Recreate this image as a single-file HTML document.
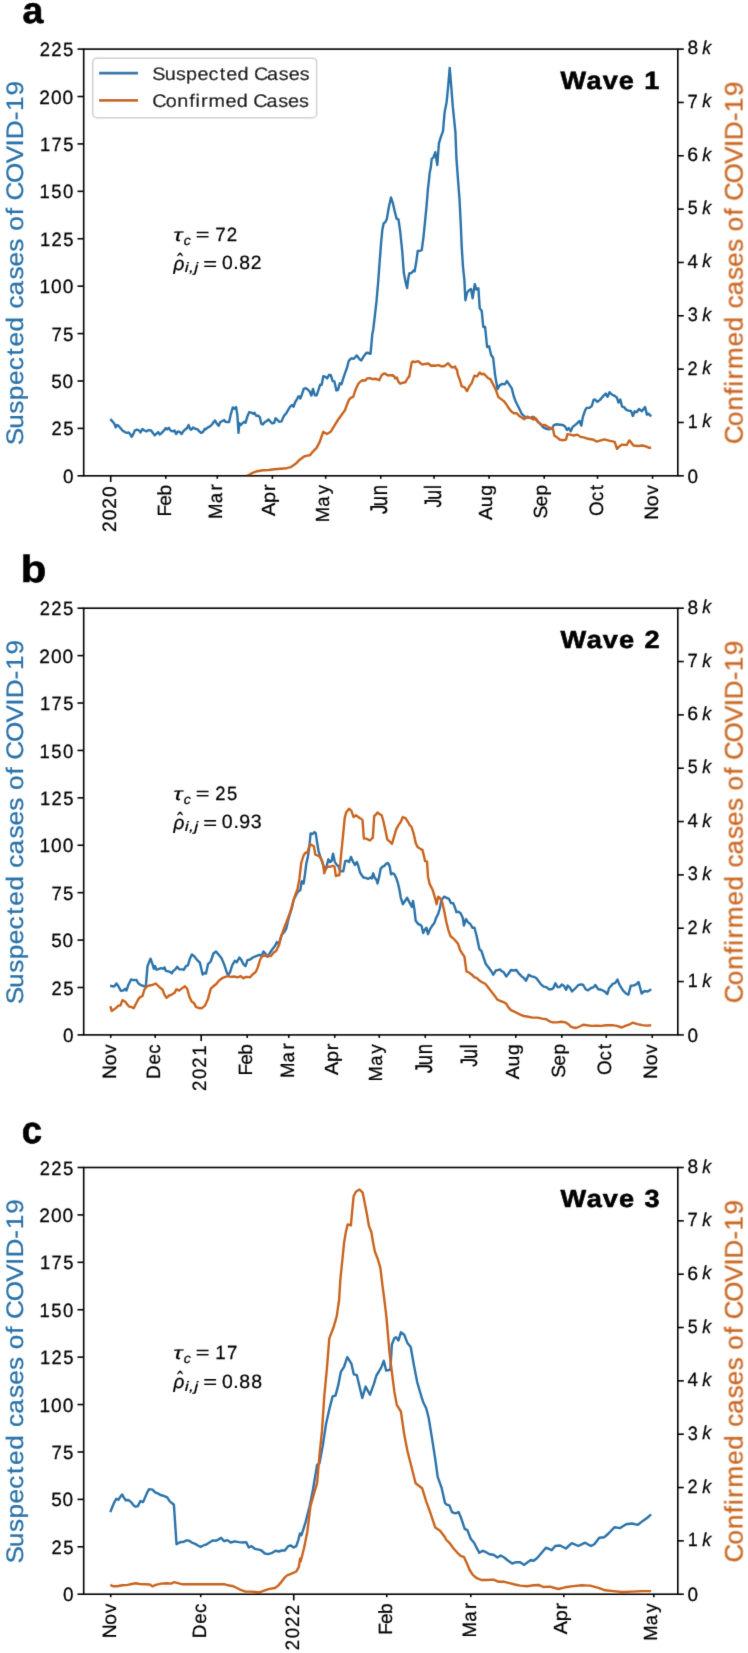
<!DOCTYPE html>
<html><head><meta charset="utf-8"><style>
html,body{margin:0;padding:0;background:#fff;}
svg{display:block;font-family:"Liberation Sans",sans-serif;}

</style></head><body>
<svg width="748" height="1653" viewBox="0 0 748 1653" text-rendering="geometricPrecision">
<defs><filter id="soft" x="0" y="0" width="748" height="1653" filterUnits="userSpaceOnUse"><feConvolveMatrix order="3" kernelMatrix="0.01134 0.08382 0.01134 0.08382 0.61935 0.08382 0.01134 0.08382 0.01134" edgeMode="duplicate"/></filter></defs>
<rect width="748" height="1653" fill="#fff"/>
<g filter="url(#soft)">
<clipPath id="clip0"><rect x="83.70" y="49.10" width="594.10" height="426.70"/></clipPath>
<polyline clip-path="url(#clip0)" fill="none" stroke="#2a72a8" stroke-width="2.4" stroke-linejoin="round" stroke-linecap="butt" points="110.3,419.1 112.4,421.4 114.4,423.8 115.7,427.4 117.0,425.1 118.4,425.7 120.4,428.1 122.4,430.5 124.8,432.1 127.1,432.8 128.8,432.4 130.4,434.5 131.7,436.8 133.3,434.1 134.7,430.7 137.1,429.7 139.1,430.5 140.4,432.4 142.4,429.1 144.4,430.5 146.4,431.4 148.4,430.1 151.1,430.5 153.1,433.2 154.7,435.4 156.5,433.7 158.2,432.1 159.8,434.5 161.8,432.8 163.8,430.7 165.8,428.1 167.2,429.4 168.9,427.8 170.5,430.5 172.5,431.4 174.5,430.5 176.1,434.1 177.9,431.4 179.9,432.1 181.5,434.1 183.2,431.4 185.2,429.4 186.8,428.3 188.6,425.1 189.9,428.7 191.2,429.7 193.2,427.4 195.2,428.7 197.2,429.1 199.3,431.4 201.0,432.8 202.6,432.4 205.0,428.7 205.3,429.6 208.0,427.4 210.0,426.4 212.0,424.5 213.6,422.1 215.0,420.5 216.7,423.4 218.7,425.8 220.3,422.1 222.5,421.0 224.1,420.1 225.4,421.8 227.4,422.1 229.1,422.1 230.7,414.7 232.8,407.4 234.5,408.7 236.1,407.1 237.4,415.4 238.5,432.8 239.4,423.2 240.8,425.0 242.5,423.2 244.1,421.8 245.5,422.8 247.5,416.1 249.2,412.1 251.5,412.7 253.2,413.8 254.5,412.7 256.1,415.7 258.2,415.7 259.9,417.4 261.2,423.4 262.8,424.5 264.8,422.1 266.8,421.0 268.4,419.4 270.2,421.4 272.2,423.4 274.2,422.8 275.5,418.3 277.3,419.7 279.1,421.8 281.6,421.4 283.2,417.4 284.5,415.1 286.2,413.4 288.2,409.8 290.2,406.7 292.2,405.0 293.6,406.7 295.2,402.0 296.9,399.4 298.3,396.4 300.0,396.7 300.3,398.5 302.0,394.2 303.7,388.9 305.7,388.2 307.7,389.5 309.7,391.5 311.3,395.6 313.0,388.9 314.8,395.3 316.7,395.3 318.4,390.2 320.1,384.8 321.7,384.8 323.3,376.2 325.1,376.6 327.1,378.4 329.1,374.8 330.8,375.2 332.7,381.1 334.4,381.5 336.4,390.5 338.0,389.9 339.8,383.2 341.5,384.2 343.1,378.8 345.1,372.8 347.1,367.5 348.7,361.0 351.1,358.4 353.8,358.8 356.8,355.4 359.2,358.8 361.2,360.5 363.9,356.1 366.5,352.7 368.3,353.0 370.5,353.8 371.5,343.4 372.3,334.0 373.2,330.0 376.5,301.4 378.1,282.8 379.6,262.3 381.2,241.7 382.4,229.4 383.7,223.2 385.3,222.2 386.8,219.1 388.9,206.7 391.0,197.5 393.0,203.7 395.1,212.9 396.6,218.6 398.5,219.6 400.2,231.4 402.3,252.0 403.8,272.6 405.7,282.8 407.1,288.0 408.4,277.7 409.5,273.1 411.5,273.1 413.6,270.5 414.6,271.5 416.2,262.3 417.7,251.0 420.3,250.8 421.8,249.9 423.4,237.6 424.9,223.2 426.5,206.7 428.0,188.2 429.0,180.0 429.6,173.3 430.7,168.1 431.7,158.9 433.2,157.8 435.3,152.2 437.3,165.0 438.9,143.4 440.4,138.3 443.0,131.1 444.6,112.6 446.6,102.3 448.2,85.9 449.7,67.9 451.2,85.9 452.8,106.4 455.4,132.1 456.4,157.8 457.9,178.4 459.5,199.0 460.8,225.0 461.7,246.7 463.0,266.8 464.4,280.2 465.4,300.2 467.0,292.9 469.0,290.2 471.0,288.9 472.6,298.2 474.8,284.2 476.4,289.5 478.4,288.2 479.7,308.2 481.7,310.9 483.3,327.0 485.1,327.0 487.1,347.0 489.1,346.3 491.1,355.0 493.1,357.7 495.1,375.1 497.5,389.1 499.8,385.1 502.5,383.8 504.7,384.4 506.9,381.1 509.1,384.4 511.8,388.4 513.8,396.5 515.8,401.8 519.2,408.5 521.8,413.9 524.5,416.5 527.9,417.9 531.2,417.6 532.8,416.8 533.9,417.6 535.1,418.2 537.5,421.5 540.3,423.8 543.1,427.1 545.4,428.5 548.7,429.4 552.0,428.5 553.9,425.2 556.2,424.3 559.9,424.7 562.8,425.0 565.1,426.6 567.0,429.9 568.8,428.0 570.7,431.3 572.6,427.1 575.9,424.3 579.6,421.0 581.3,425.7 582.9,416.8 585.2,410.2 586.6,407.9 589.4,407.9 591.8,406.0 593.6,399.9 595.0,399.5 597.4,401.8 600.0,399.9 603.9,395.4 605.8,393.6 607.6,396.8 609.5,392.2 611.8,394.5 614.7,395.9 617.0,397.8 618.4,402.5 620.3,399.6 622.1,406.7 624.0,407.1 626.4,409.9 629.2,410.9 631.0,410.9 632.9,416.0 634.8,411.3 636.6,412.3 639.0,409.0 641.8,411.3 645.1,407.1 646.9,414.6 648.8,413.7 651.1,416.5"/>
<polyline clip-path="url(#clip0)" fill="none" stroke="#c8641e" stroke-width="2.4" stroke-linejoin="round" stroke-linecap="butt" points="110.5,476.8 245.0,476.8 249.0,474.9 252.6,472.9 257.1,471.2 262.9,470.3 268.8,470.0 274.7,469.3 280.6,468.8 286.5,468.2 290.9,467.1 295.3,464.1 299.7,459.7 304.1,456.5 307.1,455.6 310.0,455.3 312.9,451.6 316.6,447.9 319.6,442.1 323.2,431.8 326.9,434.0 330.6,431.8 334.3,425.9 337.9,420.0 345.1,410.0 347.1,404.2 349.1,399.6 351.1,397.6 353.2,396.9 354.9,391.5 356.5,387.5 358.5,383.5 360.5,381.5 362.5,380.2 365.2,380.6 367.2,378.4 369.9,378.2 372.5,379.2 375.2,378.8 377.2,379.2 379.2,380.2 381.6,375.2 383.9,373.5 385.9,373.9 386.6,374.8 388.6,375.5 388.7,375.3 390.9,375.3 391.3,375.5 392.8,375.1 393.3,375.8 394.4,376.7 395.0,378.4 396.8,377.5 398.4,381.7 400.2,383.6 402.6,382.8 405.3,382.3 407.5,378.5 409.3,376.4 410.4,369.4 411.7,362.5 412.8,361.4 414.9,362.2 418.2,361.1 420.3,363.0 422.4,364.6 425.0,363.8 425.6,364.1 428.3,363.5 431.0,365.7 433.1,365.5 435.3,365.7 438.5,365.1 441.1,366.2 444.4,366.2 446.5,364.4 448.1,363.3 449.7,365.1 451.8,367.3 454.5,367.3 455.0,366.4 456.1,368.9 457.0,369.7 457.7,374.2 459.0,377.8 459.9,380.0 461.7,386.4 464.4,387.1 467.0,391.1 469.7,385.8 471.7,383.1 474.4,375.7 477.1,376.4 479.7,372.4 481.7,374.4 483.7,373.7 486.4,376.4 488.4,378.4 490.4,379.1 493.1,384.4 495.8,389.8 498.4,397.1 501.1,399.1 503.8,401.1 506.5,404.5 508.5,407.8 511.1,411.2 513.8,413.2 516.5,413.2 519.2,415.9 521.8,417.6 524.5,419.2 527.2,416.5 530.5,417.9 533.7,419.6 533.9,417.2 536.1,418.7 538.4,422.4 541.2,424.7 545.4,425.2 548.7,427.5 552.9,428.5 554.3,435.5 557.1,437.4 559.9,439.7 563.7,440.2 566.0,439.7 567.4,434.1 570.2,434.6 573.5,435.5 577.3,434.6 580.5,436.9 583.8,437.4 588.0,438.8 593.6,439.7 596.4,441.6 600.0,440.6 604.4,439.4 609.0,440.6 614.7,441.9 617.0,448.8 619.3,446.4 622.1,444.6 626.8,445.0 629.2,440.4 631.0,442.2 633.4,445.5 638.0,446.0 642.7,445.5 646.5,446.6 649.3,447.8 651.1,447.8"/>
<rect x="83.70" y="49.10" width="594.10" height="426.70" fill="none" stroke="#000" stroke-width="1.6"/>
<line x1="77.50" y1="475.80" x2="83.70" y2="475.80" stroke="#000" stroke-width="1.60"/>
<text transform="matrix(18.93613 0.00000 0.00000 19.34700 62.876 482.901)" font-size="1" fill="#000" stroke="#000" stroke-width="0.0131" >0</text>
<line x1="77.50" y1="428.39" x2="83.70" y2="428.39" stroke="#000" stroke-width="1.60"/>
<text x="0.0213 0.6571" transform="matrix(18.41074 0.00000 0.00000 19.34700 51.096 435.489)" font-size="1" fill="#000" stroke="#000" stroke-width="0.0132" >25</text>
<line x1="77.50" y1="380.98" x2="83.70" y2="380.98" stroke="#000" stroke-width="1.60"/>
<text x="0.0192 0.6231" transform="matrix(18.99577 0.00000 0.00000 19.34700 51.009 388.078)" font-size="1" fill="#000" stroke="#000" stroke-width="0.0130" >50</text>
<line x1="77.50" y1="333.57" x2="83.70" y2="333.57" stroke="#000" stroke-width="1.60"/>
<text x="0.0274 0.6420" transform="matrix(18.64337 0.00000 0.00000 19.29462 51.104 340.553)" font-size="1" fill="#000" stroke="#000" stroke-width="0.0132" >75</text>
<line x1="77.50" y1="286.16" x2="83.70" y2="286.16" stroke="#000" stroke-width="1.60"/>
<text x="0.0184 0.6231 1.2247" transform="matrix(19.18302 0.00000 0.00000 19.34700 39.255 293.256)" font-size="1" fill="#000" stroke="#000" stroke-width="0.0130" >100</text>
<line x1="77.50" y1="238.74" x2="83.70" y2="238.74" stroke="#000" stroke-width="1.60"/>
<text x="0.0344 0.6571 1.2996" transform="matrix(18.33145 0.00000 0.00000 19.34700 39.410 245.845)" font-size="1" fill="#000" stroke="#000" stroke-width="0.0133" >125</text>
<line x1="77.50" y1="191.33" x2="83.70" y2="191.33" stroke="#000" stroke-width="1.60"/>
<text x="0.0344 0.6670 1.3021" transform="matrix(18.49326 0.00000 0.00000 19.34700 39.024 198.434)" font-size="1" fill="#000" stroke="#000" stroke-width="0.0132" >150</text>
<line x1="77.50" y1="143.92" x2="83.70" y2="143.92" stroke="#000" stroke-width="1.60"/>
<text x="0.0344 0.6683 1.2996" transform="matrix(18.33145 0.00000 0.00000 19.29462 39.410 150.908)" font-size="1" fill="#000" stroke="#000" stroke-width="0.0133" >175</text>
<line x1="77.50" y1="96.51" x2="83.70" y2="96.51" stroke="#000" stroke-width="1.60"/>
<text x="0.0097 0.6231 1.2247" transform="matrix(19.20882 0.00000 0.00000 19.34700 39.210 103.612)" font-size="1" fill="#000" stroke="#000" stroke-width="0.0130" >200</text>
<line x1="77.50" y1="49.10" x2="83.70" y2="49.10" stroke="#000" stroke-width="1.60"/>
<text x="0.0213 0.6473 1.2830" transform="matrix(18.50347 0.00000 0.00000 19.34700 39.405 56.201)" font-size="1" fill="#000" stroke="#000" stroke-width="0.0132" >225</text>
<line x1="677.80" y1="475.80" x2="683.80" y2="475.80" stroke="#000" stroke-width="1.60"/>
<text transform="matrix(18.93613 0.00000 0.00000 19.34700 687.568 482.651)" font-size="1" fill="#000" stroke="#000" stroke-width="0.0131" >0</text>
<line x1="677.80" y1="422.46" x2="683.80" y2="422.46" stroke="#000" stroke-width="1.60"/>
<text transform="matrix(17.92832 0.00000 0.00000 19.17382 687.704 427.754)" font-size="1" fill="#000" stroke="#000" stroke-width="0.0135" >1</text>
<text transform="matrix(17.89474 0.00000 0.00000 18.94345 702.212 427.478)" font-size="1" fill="#000" stroke="#000" stroke-width="0.0136" font-style="italic">k</text>
<line x1="677.80" y1="369.12" x2="683.80" y2="369.12" stroke="#000" stroke-width="1.60"/>
<text transform="matrix(18.15385 0.00000 0.00000 19.22867 687.451 374.531)" font-size="1" fill="#000" stroke="#000" stroke-width="0.0134" >2</text>
<text transform="matrix(17.89474 0.00000 0.00000 18.94345 702.212 374.255)" font-size="1" fill="#000" stroke="#000" stroke-width="0.0136" font-style="italic">k</text>
<line x1="677.80" y1="315.79" x2="683.80" y2="315.79" stroke="#000" stroke-width="1.60"/>
<text transform="matrix(18.06737 0.00000 0.00000 19.34700 687.727 321.138)" font-size="1" fill="#000" stroke="#000" stroke-width="0.0134" >3</text>
<text transform="matrix(17.89474 0.00000 0.00000 18.94345 702.212 321.055)" font-size="1" fill="#000" stroke="#000" stroke-width="0.0136" font-style="italic">k</text>
<line x1="677.80" y1="262.45" x2="683.80" y2="262.45" stroke="#000" stroke-width="1.60"/>
<text transform="matrix(18.81584 0.00000 0.00000 19.17382 687.522 267.741)" font-size="1" fill="#000" stroke="#000" stroke-width="0.0132" >4</text>
<text transform="matrix(17.89474 0.00000 0.00000 18.94345 702.212 267.465)" font-size="1" fill="#000" stroke="#000" stroke-width="0.0136" font-style="italic">k</text>
<line x1="677.80" y1="209.11" x2="683.80" y2="209.11" stroke="#000" stroke-width="1.60"/>
<text transform="matrix(17.77684 0.00000 0.00000 19.29462 687.740 214.349)" font-size="1" fill="#000" stroke="#000" stroke-width="0.0135" >5</text>
<text transform="matrix(17.89474 0.00000 0.00000 18.94345 702.212 214.265)" font-size="1" fill="#000" stroke="#000" stroke-width="0.0136" font-style="italic">k</text>
<line x1="677.80" y1="155.78" x2="683.80" y2="155.78" stroke="#000" stroke-width="1.60"/>
<text transform="matrix(19.45081 0.00000 0.00000 19.34700 687.340 161.126)" font-size="1" fill="#000" stroke="#000" stroke-width="0.0129" >6</text>
<text transform="matrix(17.89474 0.00000 0.00000 18.94345 702.212 161.043)" font-size="1" fill="#000" stroke="#000" stroke-width="0.0136" font-style="italic">k</text>
<line x1="677.80" y1="102.44" x2="683.80" y2="102.44" stroke="#000" stroke-width="1.60"/>
<text transform="matrix(18.45746 0.00000 0.00000 19.17382 687.574 107.728)" font-size="1" fill="#000" stroke="#000" stroke-width="0.0133" >7</text>
<text transform="matrix(17.89474 0.00000 0.00000 18.94345 702.212 107.453)" font-size="1" fill="#000" stroke="#000" stroke-width="0.0136" font-style="italic">k</text>
<line x1="677.80" y1="49.10" x2="683.80" y2="49.10" stroke="#000" stroke-width="1.60"/>
<text transform="matrix(19.04255 0.00000 0.00000 19.34700 687.458 54.451)" font-size="1" fill="#000" stroke="#000" stroke-width="0.0130" >8</text>
<text transform="matrix(17.89474 0.00000 0.00000 18.94345 702.212 54.368)" font-size="1" fill="#000" stroke="#000" stroke-width="0.0136" font-style="italic">k</text>
<line x1="110.70" y1="475.80" x2="110.70" y2="482.00" stroke="#000" stroke-width="1.60"/>
<text x="0.0097 0.6231 1.2129 1.8263" transform="matrix(0.00000 -19.28496 19.34700 0.00000 115.755 531.920)" font-size="1" fill="#000" stroke="#000" stroke-width="0.0129" >2020</text>
<line x1="165.78" y1="475.80" x2="165.78" y2="478.80" stroke="#000" stroke-width="1.60"/>
<text x="-0.0415 0.5411 1.0721" transform="matrix(0.00000 -19.08879 19.06122 0.00000 170.994 515.842)" font-size="1" fill="#000" stroke="#000" stroke-width="0.0131" >Feb</text>
<line x1="217.30" y1="475.80" x2="217.30" y2="478.80" stroke="#000" stroke-width="1.60"/>
<text x="0.0150 0.8553 1.5331" transform="matrix(0.00000 -18.61818 19.29462 0.00000 222.237 519.013)" font-size="1" fill="#000" stroke="#000" stroke-width="0.0132" >Mar</text>
<line x1="272.38" y1="475.80" x2="272.38" y2="478.80" stroke="#000" stroke-width="1.60"/>
<text x="-0.0204 0.6459 1.2483" transform="matrix(0.00000 -19.85535 18.99441 0.00000 275.335 515.614)" font-size="1" fill="#000" stroke="#000" stroke-width="0.0129" >Apr</text>
<line x1="325.67" y1="475.80" x2="325.67" y2="478.80" stroke="#000" stroke-width="1.60"/>
<text x="0.0150 0.8553 1.5219" transform="matrix(0.00000 -18.44345 18.99441 0.00000 328.634 522.320)" font-size="1" fill="#000" stroke="#000" stroke-width="0.0134" >May</text>
<line x1="380.75" y1="475.80" x2="380.75" y2="478.80" stroke="#000" stroke-width="1.60"/>
<text x="-0.1527 0.2879 0.8813" transform="matrix(0.00000 -18.49156 24.17491 0.00000 387.339 511.446)" font-size="1" fill="#000" stroke="#000" stroke-width="0.0117" >Jun</text>
<line x1="434.05" y1="475.80" x2="434.05" y2="478.80" stroke="#000" stroke-width="1.60"/>
<text x="-0.1495 0.3143 0.9278" transform="matrix(0.00000 -17.40426 23.69252 0.00000 440.919 505.101)" font-size="1" fill="#000" stroke="#000" stroke-width="0.0122" >Jul</text>
<line x1="489.12" y1="475.80" x2="489.12" y2="478.80" stroke="#000" stroke-width="1.60"/>
<text x="-0.0167 0.6495 1.2355" transform="matrix(0.00000 -19.44782 18.99441 0.00000 492.082 519.789)" font-size="1" fill="#000" stroke="#000" stroke-width="0.0130" >Aug</text>
<line x1="544.20" y1="475.80" x2="544.20" y2="478.80" stroke="#000" stroke-width="1.60"/>
<text x="-0.0338 0.5963 1.1779" transform="matrix(0.00000 -19.16262 19.03867 0.00000 547.263 517.973)" font-size="1" fill="#000" stroke="#000" stroke-width="0.0131" >Sep</text>
<line x1="597.50" y1="475.80" x2="597.50" y2="478.80" stroke="#000" stroke-width="1.60"/>
<text x="0.0015 0.7947 1.3830" transform="matrix(0.00000 -18.77108 19.34700 0.00000 602.548 515.996)" font-size="1" fill="#000" stroke="#000" stroke-width="0.0131" >Oct</text>
<line x1="652.57" y1="475.80" x2="652.57" y2="478.80" stroke="#000" stroke-width="1.60"/>
<text x="-0.0098 0.7126 1.3073" transform="matrix(0.00000 -19.27066 19.29462 0.00000 657.508 519.793)" font-size="1" fill="#000" stroke="#000" stroke-width="0.0130" >Nov</text>
<text x="-0.0293 0.6144 1.1946 1.7077 2.2924 2.8557 3.4183 3.7566 4.3369 4.9192 5.2156 5.7102 6.3130 6.8140 7.3814 7.8696 8.1777 8.7809 9.0749 9.3366 10.0107 10.7576 11.3971 11.6754 12.4027 12.7546 13.3524" transform="matrix(0.00000 -26.18318 23.86059 0.00000 22.524 444.787)" font-size="1" fill="#2a72a8" stroke="#2a72a8" stroke-width="0.0100" >Suspected cases of COVID-19</text>
<text x="-0.0371 0.6658 1.2540 1.8648 2.1793 2.4627 2.8499 3.7190 4.2992 4.8815 5.1780 5.6725 6.2754 6.7764 7.3438 7.8320 8.1401 8.7432 9.0372 9.2990 9.9730 10.7199 11.3595 11.6378 12.3651 12.7169 13.3148" transform="matrix(0.00000 -26.07531 25.51020 0.00000 742.620 443.310)" font-size="1" fill="#c8641e" stroke="#c8641e" stroke-width="0.0097" >Confirmed cases of COVID-19</text>
<text transform="matrix(37.55869 0.00000 0.00000 37.07763 22.473 23.429)" font-size="1" fill="#000" stroke="#000" stroke-width="0.0161" font-weight="bold">a</text>
<text x="0.0246 0.9858 1.5864 2.1806 2.7703 3.1228" transform="matrix(27.07499 0.00000 0.00000 25.08961 559.968 89.149)" font-size="1" fill="#000" stroke="#000" stroke-width="0.0230" font-weight="bold">Wave 1</text>
<text transform="matrix(23.61290 0.00000 0.00000 18.13953 173.440 240.694)" font-size="1" fill="#000" stroke="#000" stroke-width="0.0120" font-style="italic">τ</text>
<text transform="matrix(14.17582 0.00000 0.00000 13.60731 183.864 244.639)" font-size="1" fill="#000" stroke="#000" stroke-width="0.0180" font-style="italic">c</text>
<text transform="matrix(23.60825 0.00000 0.00000 16.58915 195.645 240.054)" font-size="1" fill="#000" stroke="#000" stroke-width="0.0124" >=</text>
<text x="0.0274 0.6323" transform="matrix(18.72931 0.00000 0.00000 19.22867 214.947 240.637)" font-size="1" fill="#000" stroke="#000" stroke-width="0.0132" >72</text>
<text transform="matrix(18.94273 0.00000 0.00000 18.99329 173.599 269.634)" font-size="1" fill="#000" stroke="#000" stroke-width="0.0132" font-style="italic">ρ</text>
<text transform="matrix(17.20930 0.00000 0.00000 22.10526 177.125 268.762)" font-size="1" fill="#000" stroke="#000" stroke-width="0.0127" >ˆ</text>
<text x="0.0097 0.2528 0.5555" transform="matrix(17.65198 0.00000 0.00000 13.67292 184.645 272.338)" font-size="1" fill="#000" stroke="#000" stroke-width="0.0160" font-style="italic">i,j</text>
<text transform="matrix(23.81443 0.00000 0.00000 18.13953 203.234 269.613)" font-size="1" fill="#000" stroke="#000" stroke-width="0.0119" >=</text>
<text x="0.0197 0.6073 0.9178 1.5030" transform="matrix(19.32667 0.00000 0.00000 19.34700 221.767 269.220)" font-size="1" fill="#000" stroke="#000" stroke-width="0.0129" >0.82</text>
<rect x="92.8" y="58.2" width="223.8" height="59.5" rx="4" ry="4" fill="#fff" fill-opacity="0.8" stroke="#d0d0d0" stroke-width="1.5"/>
<line x1="99.00" y1="73.20" x2="138.10" y2="73.20" stroke="#2a72a8" stroke-width="2.80"/>
<line x1="99.00" y1="100.30" x2="138.10" y2="100.30" stroke="#c8641e" stroke-width="2.80"/>
<text x="-0.0329 0.6036 1.1772 1.6836 2.2614 2.8181 3.3754 3.7080 4.2814 4.8598 5.1140 5.7756 6.3718 6.8664 7.4274" transform="matrix(19.78990 0.00000 0.00000 18.06971 152.886 79.726)" font-size="1" fill="#000" stroke="#000" stroke-width="0.0132" >Suspected Cases</text>
<text x="-0.0421 0.6515 1.2309 1.8345 2.1447 2.4226 2.8006 3.6586 4.2303 4.8078 5.0601 5.7199 6.3144 6.8074 7.3667" transform="matrix(19.85599 0.00000 0.00000 18.16327 152.968 107.093)" font-size="1" fill="#000" stroke="#000" stroke-width="0.0132" >Confirmed Cases</text>
<clipPath id="clip1"><rect x="83.70" y="608.20" width="594.10" height="426.70"/></clipPath>
<polyline clip-path="url(#clip1)" fill="none" stroke="#2a72a8" stroke-width="2.4" stroke-linejoin="round" stroke-linecap="butt" points="110.1,985.8 112.4,986.2 114.1,986.6 116.4,983.5 118.4,986.2 120.8,990.8 123.0,990.6 125.1,988.8 126.4,990.6 128.4,984.8 131.1,979.5 133.7,980.1 136.4,979.9 138.4,983.5 140.4,984.8 143.1,985.8 145.8,986.8 147.5,966.1 150.5,958.7 152.5,964.1 153.8,968.8 155.1,966.1 156.5,969.7 158.5,969.2 161.1,968.1 163.2,968.8 164.5,967.4 165.8,970.8 168.5,971.4 170.5,972.1 171.8,973.4 173.2,971.0 175.2,969.4 177.2,966.8 179.2,969.2 181.9,969.4 183.9,969.7 185.9,966.1 187.9,965.4 189.9,958.7 191.9,954.4 194.6,956.7 197.2,960.1 199.9,962.7 201.3,968.8 202.6,974.5 205.0,972.8 206.0,973.5 208.0,964.2 210.7,961.5 213.4,953.5 216.0,951.5 218.7,954.8 221.4,958.1 224.1,964.2 226.7,972.2 228.1,975.5 230.1,972.2 232.1,965.5 234.8,960.8 236.8,962.2 239.4,957.5 241.4,960.1 243.4,964.2 245.5,966.2 247.5,960.1 250.1,959.5 252.8,957.5 256.1,956.1 259.5,954.8 261.5,956.1 263.5,951.5 265.5,953.5 267.5,956.8 269.5,953.5 272.2,949.5 274.9,946.1 276.9,942.1 278.9,944.1 281.6,934.8 284.2,932.1 286.2,928.7 288.2,920.0 290.2,913.4 292.2,906.7 293.6,900.0 296.6,893.9 298.4,891.1 300.3,890.1 301.7,881.3 303.6,883.6 305.0,874.2 306.4,863.0 307.8,857.4 309.2,848.0 310.6,833.5 312.5,834.0 314.5,832.1 315.7,833.1 317.1,842.4 318.5,850.8 319.9,855.5 321.8,861.1 323.7,866.7 326.0,868.6 328.4,859.3 330.2,862.1 331.6,861.1 333.0,853.6 334.9,862.1 336.8,864.9 338.2,865.8 339.6,869.6 341.5,871.4 343.3,871.4 345.2,861.1 347.1,860.7 349.0,862.1 351.0,856.9 353.2,862.1 355.0,864.9 356.9,862.1 358.3,865.8 360.0,872.4 361.1,874.2 363.4,877.5 365.8,877.9 368.1,878.9 370.4,877.5 371.8,878.4 373.2,873.3 374.7,877.9 376.5,879.8 377.5,883.5 378.9,877.9 380.7,868.6 382.6,866.7 384.5,865.8 385.9,863.9 387.8,863.0 389.6,865.8 391.0,874.2 392.4,873.3 394.3,874.2 396.2,877.9 398.0,883.5 399.5,890.0 400.7,897.3 402.8,904.2 405.0,901.0 407.1,897.8 409.3,902.1 411.9,906.9 413.0,901.0 414.3,908.5 415.7,920.8 417.8,923.5 418.9,924.5 420.0,924.5 421.6,926.1 423.2,933.0 424.8,929.8 426.4,927.7 428.0,934.1 430.2,928.8 432.3,925.6 434.4,922.9 436.0,918.1 438.2,913.8 439.8,908.5 441.4,899.9 444.1,896.7 446.7,897.8 448.9,898.8 451.0,903.1 453.2,903.1 455.3,908.5 456.4,912.2 458.5,911.7 460.6,913.3 462.8,918.1 463.9,925.6 466.0,919.1 468.1,922.4 470.3,924.0 472.4,927.7 474.5,927.7 476.7,936.2 479.4,949.1 481.5,951.2 483.6,957.6 485.8,964.0 488.4,967.3 491.1,971.0 493.3,974.7 495.9,970.5 498.6,969.9 500.0,969.4 501.4,971.0 503.6,972.1 506.2,976.4 508.4,973.7 511.0,970.0 513.7,970.5 516.4,970.0 518.5,973.2 521.7,976.4 523.9,978.0 526.0,980.7 528.7,974.8 531.4,976.4 534.0,976.9 536.2,978.0 538.3,980.7 541.0,984.4 543.7,986.6 546.3,987.1 549.0,989.2 551.7,989.2 553.3,988.2 555.4,983.3 557.6,987.1 559.7,987.1 561.8,984.4 564.0,986.0 566.1,989.8 567.7,985.5 569.9,987.6 572.0,991.4 575.0,988.7 578.4,985.0 581.4,984.4 583.2,985.0 585.6,989.2 588.0,990.4 591.1,988.0 593.5,987.4 595.3,985.0 598.3,989.2 601.3,989.8 604.9,991.6 607.3,994.1 609.1,988.0 610.9,986.2 612.7,983.8 615.1,983.2 617.5,979.6 619.3,984.4 622.9,990.4 625.9,993.5 628.4,994.7 630.8,985.6 633.2,985.6 636.2,984.4 638.6,982.0 641.6,993.5 644.6,991.0 647.6,991.6 649.4,990.4 651.2,989.2"/>
<polyline clip-path="url(#clip1)" fill="none" stroke="#c8641e" stroke-width="2.4" stroke-linejoin="round" stroke-linecap="butt" points="110.3,1006.2 111.7,1010.9 113.7,1009.6 116.4,1007.6 118.4,1005.6 120.4,1005.6 122.4,1000.2 125.1,1001.5 127.1,1004.2 129.1,1006.6 131.1,1006.9 133.7,1008.2 135.7,1004.2 137.8,1000.2 139.8,997.3 142.4,996.2 144.4,989.5 147.1,986.2 149.8,985.5 152.5,984.8 155.8,983.5 157.8,985.5 159.8,987.5 162.5,989.5 164.5,994.8 166.5,997.8 169.2,995.5 171.8,994.6 174.5,992.8 176.5,989.2 179.2,990.6 181.9,988.4 184.9,986.2 187.2,988.8 189.2,996.2 191.6,1001.5 193.9,1002.9 195.9,1006.9 198.6,1008.0 201.9,1008.2 205.0,1005.6 208.0,998.9 210.7,988.9 213.4,986.2 216.0,984.2 218.7,980.9 222.1,978.2 225.4,976.9 228.1,976.2 230.7,976.9 234.1,976.5 237.4,977.3 240.8,976.2 243.4,978.2 246.1,976.9 250.1,977.3 252.8,974.2 255.5,972.2 257.5,968.2 260.2,959.5 262.2,956.1 264.8,955.5 267.5,956.1 270.9,956.1 273.5,952.8 276.2,950.8 278.9,945.4 280.9,937.4 283.6,929.4 286.2,922.7 288.2,917.4 290.2,912.0 292.2,905.3 293.6,900.0 295.6,893.9 297.5,889.2 299.4,878.9 301.2,863.0 303.6,855.5 305.4,852.7 307.3,852.7 308.7,848.0 310.1,844.3 312.0,845.2 313.9,846.2 315.3,854.6 317.6,855.5 319.5,856.5 321.8,860.2 323.2,864.9 324.2,873.3 325.6,869.6 327.4,866.7 330.2,866.7 333.0,865.8 334.5,866.7 335.9,876.1 337.7,875.2 339.4,875.2 341.0,855.5 342.9,836.8 344.7,818.1 346.1,812.5 349.0,808.7 351.3,810.6 353.6,817.1 356.0,815.3 358.3,817.1 360.0,818.1 362.5,819.9 363.9,838.6 366.2,838.6 370.0,840.5 372.8,837.7 374.2,816.2 376.1,814.3 377.5,812.5 379.8,814.3 381.7,815.3 383.5,821.8 385.4,830.2 387.3,839.6 389.2,841.0 392.0,843.8 393.8,837.7 396.2,829.3 398.5,825.1 400.9,821.8 402.7,817.1 405.5,818.1 407.9,821.8 409.7,825.1 411.6,827.0 414.0,834.9 415.8,843.3 417.7,847.1 420.5,848.9 422.4,849.9 424.3,857.4 425.0,861.1 427.0,861.4 428.0,876.4 429.6,883.9 432.8,890.3 435.0,897.8 436.6,904.2 438.2,896.7 439.8,897.8 441.9,901.0 444.1,910.6 446.2,921.3 448.3,929.8 450.5,936.2 453.2,938.4 455.3,940.5 458.0,943.7 460.1,950.1 462.2,953.4 464.4,956.6 466.5,971.5 469.2,972.6 471.9,974.7 474.5,977.4 476.7,977.9 479.4,980.6 482.0,982.2 485.2,983.8 486.3,985.0 495.0,996.2 497.1,999.4 500.3,1001.0 503.6,1002.1 506.2,1003.7 508.4,1007.4 511.0,1010.1 514.3,1011.7 517.5,1013.3 520.7,1014.9 523.9,1016.0 528.2,1016.8 532.4,1017.6 537.8,1017.6 542.1,1018.6 546.3,1019.2 549.5,1021.3 552.8,1022.4 557.0,1022.4 561.3,1021.8 565.6,1022.4 568.8,1024.5 570.9,1026.7 573.6,1027.7 575.0,1027.7 576.0,1028.0 579.6,1026.5 583.2,1024.7 586.8,1025.3 591.7,1025.9 596.5,1025.6 601.3,1025.9 606.1,1025.3 612.1,1025.1 616.9,1025.9 621.7,1027.5 625.3,1025.9 629.0,1024.7 632.6,1022.7 637.4,1024.1 642.2,1025.1 647.0,1025.6 651.2,1025.3"/>
<rect x="83.70" y="608.20" width="594.10" height="426.70" fill="none" stroke="#000" stroke-width="1.6"/>
<line x1="77.50" y1="1034.90" x2="83.70" y2="1034.90" stroke="#000" stroke-width="1.60"/>
<text transform="matrix(18.93613 0.00000 0.00000 19.34700 62.876 1042.001)" font-size="1" fill="#000" stroke="#000" stroke-width="0.0131" >0</text>
<line x1="77.50" y1="987.49" x2="83.70" y2="987.49" stroke="#000" stroke-width="1.60"/>
<text x="0.0213 0.6571" transform="matrix(18.41074 0.00000 0.00000 19.34700 51.096 994.589)" font-size="1" fill="#000" stroke="#000" stroke-width="0.0132" >25</text>
<line x1="77.50" y1="940.08" x2="83.70" y2="940.08" stroke="#000" stroke-width="1.60"/>
<text x="0.0192 0.6231" transform="matrix(18.99577 0.00000 0.00000 19.34700 51.009 947.178)" font-size="1" fill="#000" stroke="#000" stroke-width="0.0130" >50</text>
<line x1="77.50" y1="892.67" x2="83.70" y2="892.67" stroke="#000" stroke-width="1.60"/>
<text x="0.0274 0.6420" transform="matrix(18.64337 0.00000 0.00000 19.29462 51.104 899.653)" font-size="1" fill="#000" stroke="#000" stroke-width="0.0132" >75</text>
<line x1="77.50" y1="845.26" x2="83.70" y2="845.26" stroke="#000" stroke-width="1.60"/>
<text x="0.0184 0.6231 1.2247" transform="matrix(19.18302 0.00000 0.00000 19.34700 39.255 852.356)" font-size="1" fill="#000" stroke="#000" stroke-width="0.0130" >100</text>
<line x1="77.50" y1="797.84" x2="83.70" y2="797.84" stroke="#000" stroke-width="1.60"/>
<text x="0.0344 0.6571 1.2996" transform="matrix(18.33145 0.00000 0.00000 19.34700 39.410 804.945)" font-size="1" fill="#000" stroke="#000" stroke-width="0.0133" >125</text>
<line x1="77.50" y1="750.43" x2="83.70" y2="750.43" stroke="#000" stroke-width="1.60"/>
<text x="0.0344 0.6670 1.3021" transform="matrix(18.49326 0.00000 0.00000 19.34700 39.024 757.534)" font-size="1" fill="#000" stroke="#000" stroke-width="0.0132" >150</text>
<line x1="77.50" y1="703.02" x2="83.70" y2="703.02" stroke="#000" stroke-width="1.60"/>
<text x="0.0344 0.6683 1.2996" transform="matrix(18.33145 0.00000 0.00000 19.29462 39.410 710.008)" font-size="1" fill="#000" stroke="#000" stroke-width="0.0133" >175</text>
<line x1="77.50" y1="655.61" x2="83.70" y2="655.61" stroke="#000" stroke-width="1.60"/>
<text x="0.0097 0.6231 1.2247" transform="matrix(19.20882 0.00000 0.00000 19.34700 39.210 662.712)" font-size="1" fill="#000" stroke="#000" stroke-width="0.0130" >200</text>
<line x1="77.50" y1="608.20" x2="83.70" y2="608.20" stroke="#000" stroke-width="1.60"/>
<text x="0.0213 0.6473 1.2830" transform="matrix(18.50347 0.00000 0.00000 19.34700 39.405 615.301)" font-size="1" fill="#000" stroke="#000" stroke-width="0.0132" >225</text>
<line x1="677.80" y1="1034.90" x2="683.80" y2="1034.90" stroke="#000" stroke-width="1.60"/>
<text transform="matrix(18.93613 0.00000 0.00000 19.34700 687.568 1041.751)" font-size="1" fill="#000" stroke="#000" stroke-width="0.0131" >0</text>
<line x1="677.80" y1="981.56" x2="683.80" y2="981.56" stroke="#000" stroke-width="1.60"/>
<text transform="matrix(17.92832 0.00000 0.00000 19.17382 687.704 986.854)" font-size="1" fill="#000" stroke="#000" stroke-width="0.0135" >1</text>
<text transform="matrix(17.89474 0.00000 0.00000 18.94345 702.212 986.578)" font-size="1" fill="#000" stroke="#000" stroke-width="0.0136" font-style="italic">k</text>
<line x1="677.80" y1="928.23" x2="683.80" y2="928.23" stroke="#000" stroke-width="1.60"/>
<text transform="matrix(18.15385 0.00000 0.00000 19.22867 687.451 933.631)" font-size="1" fill="#000" stroke="#000" stroke-width="0.0134" >2</text>
<text transform="matrix(17.89474 0.00000 0.00000 18.94345 702.212 933.355)" font-size="1" fill="#000" stroke="#000" stroke-width="0.0136" font-style="italic">k</text>
<line x1="677.80" y1="874.89" x2="683.80" y2="874.89" stroke="#000" stroke-width="1.60"/>
<text transform="matrix(18.06737 0.00000 0.00000 19.34700 687.727 880.238)" font-size="1" fill="#000" stroke="#000" stroke-width="0.0134" >3</text>
<text transform="matrix(17.89474 0.00000 0.00000 18.94345 702.212 880.156)" font-size="1" fill="#000" stroke="#000" stroke-width="0.0136" font-style="italic">k</text>
<line x1="677.80" y1="821.55" x2="683.80" y2="821.55" stroke="#000" stroke-width="1.60"/>
<text transform="matrix(18.81584 0.00000 0.00000 19.17382 687.522 826.841)" font-size="1" fill="#000" stroke="#000" stroke-width="0.0132" >4</text>
<text transform="matrix(17.89474 0.00000 0.00000 18.94345 702.212 826.565)" font-size="1" fill="#000" stroke="#000" stroke-width="0.0136" font-style="italic">k</text>
<line x1="677.80" y1="768.21" x2="683.80" y2="768.21" stroke="#000" stroke-width="1.60"/>
<text transform="matrix(17.77684 0.00000 0.00000 19.29462 687.740 773.449)" font-size="1" fill="#000" stroke="#000" stroke-width="0.0135" >5</text>
<text transform="matrix(17.89474 0.00000 0.00000 18.94345 702.212 773.366)" font-size="1" fill="#000" stroke="#000" stroke-width="0.0136" font-style="italic">k</text>
<line x1="677.80" y1="714.88" x2="683.80" y2="714.88" stroke="#000" stroke-width="1.60"/>
<text transform="matrix(19.45081 0.00000 0.00000 19.34700 687.340 720.226)" font-size="1" fill="#000" stroke="#000" stroke-width="0.0129" >6</text>
<text transform="matrix(17.89474 0.00000 0.00000 18.94345 702.212 720.143)" font-size="1" fill="#000" stroke="#000" stroke-width="0.0136" font-style="italic">k</text>
<line x1="677.80" y1="661.54" x2="683.80" y2="661.54" stroke="#000" stroke-width="1.60"/>
<text transform="matrix(18.45746 0.00000 0.00000 19.17382 687.574 666.829)" font-size="1" fill="#000" stroke="#000" stroke-width="0.0133" >7</text>
<text transform="matrix(17.89474 0.00000 0.00000 18.94345 702.212 666.553)" font-size="1" fill="#000" stroke="#000" stroke-width="0.0136" font-style="italic">k</text>
<line x1="677.80" y1="608.20" x2="683.80" y2="608.20" stroke="#000" stroke-width="1.60"/>
<text transform="matrix(19.04255 0.00000 0.00000 19.34700 687.458 613.551)" font-size="1" fill="#000" stroke="#000" stroke-width="0.0130" >8</text>
<text transform="matrix(17.89474 0.00000 0.00000 18.94345 702.212 613.468)" font-size="1" fill="#000" stroke="#000" stroke-width="0.0136" font-style="italic">k</text>
<line x1="110.70" y1="1034.90" x2="110.70" y2="1037.90" stroke="#000" stroke-width="1.60"/>
<text x="-0.0098 0.7126 1.3073" transform="matrix(0.00000 -19.27066 19.29462 0.00000 115.641 1078.893)" font-size="1" fill="#000" stroke="#000" stroke-width="0.0130" >Nov</text>
<line x1="155.22" y1="1034.90" x2="155.22" y2="1037.90" stroke="#000" stroke-width="1.60"/>
<text x="0.0118 0.7661 1.3449" transform="matrix(0.00000 -18.80894 19.29462 0.00000 160.154 1078.960)" font-size="1" fill="#000" stroke="#000" stroke-width="0.0131" >Dec</text>
<line x1="201.21" y1="1034.90" x2="201.21" y2="1041.10" stroke="#000" stroke-width="1.60"/>
<text x="0.0213 0.6595 1.2732 1.9087" transform="matrix(0.00000 -18.58833 19.34700 0.00000 206.265 1091.195)" font-size="1" fill="#000" stroke="#000" stroke-width="0.0132" >2021</text>
<line x1="247.21" y1="1034.90" x2="247.21" y2="1037.90" stroke="#000" stroke-width="1.60"/>
<text x="-0.0415 0.5411 1.0721" transform="matrix(0.00000 -19.08879 19.06122 0.00000 252.425 1074.942)" font-size="1" fill="#000" stroke="#000" stroke-width="0.0131" >Feb</text>
<line x1="288.76" y1="1034.90" x2="288.76" y2="1037.90" stroke="#000" stroke-width="1.60"/>
<text x="0.0150 0.8553 1.5331" transform="matrix(0.00000 -18.61818 19.29462 0.00000 293.693 1078.113)" font-size="1" fill="#000" stroke="#000" stroke-width="0.0132" >Mar</text>
<line x1="334.75" y1="1034.90" x2="334.75" y2="1037.90" stroke="#000" stroke-width="1.60"/>
<text x="-0.0204 0.6459 1.2483" transform="matrix(0.00000 -19.85535 18.99441 0.00000 337.712 1074.714)" font-size="1" fill="#000" stroke="#000" stroke-width="0.0129" >Apr</text>
<line x1="379.27" y1="1034.90" x2="379.27" y2="1037.90" stroke="#000" stroke-width="1.60"/>
<text x="0.0150 0.8553 1.5219" transform="matrix(0.00000 -18.44345 18.99441 0.00000 382.225 1081.420)" font-size="1" fill="#000" stroke="#000" stroke-width="0.0134" >May</text>
<line x1="425.26" y1="1034.90" x2="425.26" y2="1037.90" stroke="#000" stroke-width="1.60"/>
<text x="-0.1527 0.2879 0.8813" transform="matrix(0.00000 -18.49156 24.17491 0.00000 431.852 1070.546)" font-size="1" fill="#000" stroke="#000" stroke-width="0.0117" >Jun</text>
<line x1="469.78" y1="1034.90" x2="469.78" y2="1037.90" stroke="#000" stroke-width="1.60"/>
<text x="-0.1495 0.3143 0.9278" transform="matrix(0.00000 -17.40426 23.69252 0.00000 476.646 1064.201)" font-size="1" fill="#000" stroke="#000" stroke-width="0.0122" >Jul</text>
<line x1="515.77" y1="1034.90" x2="515.77" y2="1037.90" stroke="#000" stroke-width="1.60"/>
<text x="-0.0167 0.6495 1.2355" transform="matrix(0.00000 -19.44782 18.99441 0.00000 518.731 1078.889)" font-size="1" fill="#000" stroke="#000" stroke-width="0.0130" >Aug</text>
<line x1="561.77" y1="1034.90" x2="561.77" y2="1037.90" stroke="#000" stroke-width="1.60"/>
<text x="-0.0338 0.5963 1.1779" transform="matrix(0.00000 -19.16262 19.03867 0.00000 564.834 1077.073)" font-size="1" fill="#000" stroke="#000" stroke-width="0.0131" >Sep</text>
<line x1="606.28" y1="1034.90" x2="606.28" y2="1037.90" stroke="#000" stroke-width="1.60"/>
<text x="0.0015 0.7947 1.3830" transform="matrix(0.00000 -18.77108 19.34700 0.00000 611.333 1075.096)" font-size="1" fill="#000" stroke="#000" stroke-width="0.0131" >Oct</text>
<line x1="652.28" y1="1034.90" x2="652.28" y2="1037.90" stroke="#000" stroke-width="1.60"/>
<text x="-0.0098 0.7126 1.3073" transform="matrix(0.00000 -19.27066 19.29462 0.00000 657.215 1078.893)" font-size="1" fill="#000" stroke="#000" stroke-width="0.0130" >Nov</text>
<text x="-0.0293 0.6144 1.1946 1.7077 2.2924 2.8557 3.4183 3.7566 4.3369 4.9192 5.2156 5.7102 6.3130 6.8140 7.3814 7.8696 8.1777 8.7809 9.0749 9.3366 10.0107 10.7576 11.3971 11.6754 12.4027 12.7546 13.3524" transform="matrix(0.00000 -26.18318 23.86059 0.00000 22.524 1003.887)" font-size="1" fill="#2a72a8" stroke="#2a72a8" stroke-width="0.0100" >Suspected cases of COVID-19</text>
<text x="-0.0371 0.6658 1.2540 1.8648 2.1793 2.4627 2.8499 3.7190 4.2992 4.8815 5.1780 5.6725 6.2754 6.7764 7.3438 7.8320 8.1401 8.7432 9.0372 9.2990 9.9730 10.7199 11.3595 11.6378 12.3651 12.7169 13.3148" transform="matrix(0.00000 -26.07531 25.51020 0.00000 742.620 1002.410)" font-size="1" fill="#c8641e" stroke="#c8641e" stroke-width="0.0097" >Confirmed cases of COVID-19</text>
<text transform="matrix(41.98020 0.00000 0.00000 37.95918 20.671 582.020)" font-size="1" fill="#000" stroke="#000" stroke-width="0.0150" font-weight="bold">b</text>
<text x="0.0246 0.9858 1.5864 2.1806 2.7703 3.1203" transform="matrix(27.18786 0.00000 0.00000 24.73498 559.965 648.253)" font-size="1" fill="#000" stroke="#000" stroke-width="0.0231" font-weight="bold">Wave 2</text>
<text transform="matrix(23.61290 0.00000 0.00000 18.13953 173.440 799.794)" font-size="1" fill="#000" stroke="#000" stroke-width="0.0120" font-style="italic">τ</text>
<text transform="matrix(14.17582 0.00000 0.00000 13.60731 183.864 803.739)" font-size="1" fill="#000" stroke="#000" stroke-width="0.0180" font-style="italic">c</text>
<text transform="matrix(23.60825 0.00000 0.00000 16.58915 195.645 799.154)" font-size="1" fill="#000" stroke="#000" stroke-width="0.0124" >=</text>
<text x="0.0213 0.6571" transform="matrix(18.41074 0.00000 0.00000 19.34700 214.946 799.820)" font-size="1" fill="#000" stroke="#000" stroke-width="0.0132" >25</text>
<text transform="matrix(18.94273 0.00000 0.00000 18.99329 173.599 828.734)" font-size="1" fill="#000" stroke="#000" stroke-width="0.0132" font-style="italic">ρ</text>
<text transform="matrix(17.20930 0.00000 0.00000 22.10526 177.125 827.862)" font-size="1" fill="#000" stroke="#000" stroke-width="0.0127" >ˆ</text>
<text x="0.0097 0.2528 0.5555" transform="matrix(17.65198 0.00000 0.00000 13.67292 184.645 831.438)" font-size="1" fill="#000" stroke="#000" stroke-width="0.0160" font-style="italic">i,j</text>
<text transform="matrix(23.81443 0.00000 0.00000 18.13953 203.234 828.713)" font-size="1" fill="#000" stroke="#000" stroke-width="0.0119" >=</text>
<text x="0.0155 0.5968 0.8964 1.4910" transform="matrix(19.51895 0.00000 0.00000 19.34700 221.837 828.320)" font-size="1" fill="#000" stroke="#000" stroke-width="0.0129" >0.93</text>
<clipPath id="clip2"><rect x="83.70" y="1167.50" width="594.10" height="426.70"/></clipPath>
<polyline clip-path="url(#clip2)" fill="none" stroke="#2a72a8" stroke-width="2.4" stroke-linejoin="round" stroke-linecap="butt" points="110.3,1512.1 112.4,1506.7 114.4,1502.1 116.4,1498.7 118.4,1499.8 120.4,1496.7 122.1,1494.4 123.7,1497.4 125.7,1500.3 128.4,1500.0 131.1,1502.1 133.7,1505.4 135.7,1506.7 137.8,1506.1 140.4,1501.1 143.1,1502.1 145.1,1497.4 147.1,1492.7 149.1,1489.1 152.5,1489.6 155.1,1492.3 157.8,1493.4 160.5,1495.0 163.8,1495.8 167.2,1497.4 169.8,1501.4 173.9,1504.7 175.2,1524.1 176.5,1544.2 179.9,1542.2 183.9,1541.7 186.6,1540.4 189.2,1540.8 191.9,1542.6 195.2,1543.9 197.9,1545.5 200.6,1546.8 203.3,1545.5 205.0,1544.8 206.0,1544.8 209.4,1542.5 212.7,1540.4 216.0,1540.8 218.7,1539.4 221.1,1537.7 224.1,1541.2 227.4,1540.1 230.7,1542.5 234.8,1541.4 238.8,1542.1 242.8,1542.5 246.1,1542.1 248.8,1547.5 251.5,1546.1 254.8,1548.8 258.8,1549.7 261.5,1550.5 264.8,1553.5 268.2,1554.1 271.5,1553.2 275.5,1550.8 278.9,1551.5 281.6,1550.5 284.9,1550.5 288.2,1546.1 290.9,1545.5 293.6,1547.5 296.3,1546.1 298.3,1540.1 300.0,1533.4 301.5,1535.2 305.6,1522.1 309.7,1505.8 313.0,1489.5 317.1,1465.0 319.5,1463.3 322.8,1445.4 326.0,1424.1 329.3,1409.4 332.6,1396.4 335.5,1395.6 338.3,1384.9 340.8,1371.9 344.0,1367.0 347.3,1357.2 351.4,1363.7 353.8,1374.3 356.8,1375.1 359.5,1386.6 362.3,1398.0 365.6,1386.6 370.0,1394.7 374.0,1383.7 376.4,1375.5 378.9,1371.5 381.3,1367.4 383.8,1360.8 386.2,1370.6 390.3,1369.8 391.9,1344.5 394.4,1338.0 396.0,1337.2 398.5,1340.4 400.9,1332.3 404.2,1334.7 407.4,1342.9 410.7,1347.0 414.0,1365.7 417.2,1382.1 420.5,1393.5 423.0,1401.7 426.2,1408.2 428.7,1418.0 431.9,1437.6 435.2,1458.8 437.7,1476.8 441.7,1488.2 445.0,1502.9 446.7,1504.7 449.4,1505.4 452.0,1512.1 455.4,1513.4 458.7,1512.1 461.4,1518.8 464.7,1528.8 467.4,1530.1 470.7,1538.8 474.1,1542.8 476.8,1548.2 479.4,1552.8 482.8,1550.8 486.1,1552.2 489.5,1554.2 493.5,1554.8 497.5,1557.5 500.8,1555.5 504.2,1557.5 507.5,1560.2 512.2,1563.5 516.2,1562.2 520.2,1562.2 524.2,1564.9 527.6,1562.2 530.9,1559.9 533.6,1560.8 536.9,1558.2 540.0,1554.8 545.9,1547.7 551.7,1550.2 555.1,1546.0 560.1,1545.5 565.9,1548.5 571.8,1543.2 578.4,1546.0 585.1,1542.7 591.0,1546.0 594.3,1544.3 599.3,1537.7 604.4,1537.2 608.5,1533.5 614.4,1527.3 620.2,1528.1 626.1,1524.3 631.9,1523.5 637.8,1524.8 642.8,1520.9 647.0,1518.1 651.1,1514.3"/>
<polyline clip-path="url(#clip2)" fill="none" stroke="#c8641e" stroke-width="2.4" stroke-linejoin="round" stroke-linecap="butt" points="110.3,1584.9 113.0,1586.3 117.0,1586.3 122.4,1585.3 127.7,1584.9 131.7,1584.0 135.7,1583.2 139.8,1584.0 145.1,1584.3 149.8,1584.5 152.5,1586.3 155.8,1584.9 161.1,1583.6 166.5,1583.2 171.2,1583.6 173.9,1582.2 177.9,1583.2 182.5,1584.3 189.2,1584.3 198.6,1584.3 205.0,1584.3 205.3,1584.2 213.4,1584.2 224.1,1584.2 228.1,1585.3 233.4,1586.2 237.4,1588.2 241.4,1590.2 245.5,1591.6 250.8,1591.6 256.1,1592.0 260.2,1592.2 264.2,1590.6 269.5,1588.9 274.9,1588.0 278.2,1585.6 281.6,1581.6 284.2,1578.2 286.9,1575.5 290.9,1573.8 296.3,1571.5 298.9,1566.8 300.0,1558.8 300.7,1561.3 304.0,1548.3 307.3,1531.9 310.5,1505.8 313.8,1494.4 317.1,1482.9 319.5,1455.2 322.0,1430.7 324.4,1394.7 326.9,1368.6 329.3,1338.4 333.4,1327.8 336.7,1316.3 339.1,1300.0 340.4,1278.9 342.3,1260.7 344.1,1242.6 345.9,1231.7 347.7,1224.4 350.9,1225.4 352.2,1210.8 353.6,1196.3 355.9,1191.8 359.5,1189.5 362.7,1192.7 364.5,1201.8 366.8,1213.6 369.0,1226.3 371.3,1231.7 373.1,1242.6 374.9,1251.7 377.7,1258.9 380.4,1268.0 382.2,1283.4 384.0,1297.0 385.8,1311.6 386.7,1320.0 389.5,1352.7 391.9,1372.3 394.4,1391.9 396.8,1404.9 400.9,1411.5 404.2,1434.3 407.4,1450.7 411.5,1467.0 415.6,1483.3 422.1,1488.2 426.2,1501.3 430.3,1512.7 435.2,1527.4 440.1,1530.7 445.0,1537.2 446.0,1539.5 449.4,1542.8 453.4,1548.2 457.4,1552.8 460.7,1555.9 464.1,1557.2 466.7,1562.9 469.4,1569.5 472.8,1574.9 476.8,1578.2 481.4,1580.0 486.8,1580.0 493.5,1579.6 498.8,1581.8 504.2,1581.8 509.5,1583.2 514.9,1584.5 520.2,1585.6 526.9,1586.2 533.6,1585.3 539.2,1585.0 540.0,1585.6 543.4,1587.0 550.0,1586.6 558.4,1589.0 565.1,1587.3 573.4,1586.1 581.8,1585.3 590.1,1585.6 598.5,1587.8 605.2,1590.3 613.5,1591.1 621.9,1592.0 631.9,1591.6 642.0,1591.1 651.1,1591.1"/>
<rect x="83.70" y="1167.50" width="594.10" height="426.70" fill="none" stroke="#000" stroke-width="1.6"/>
<line x1="77.50" y1="1594.20" x2="83.70" y2="1594.20" stroke="#000" stroke-width="1.60"/>
<text transform="matrix(18.93613 0.00000 0.00000 19.34700 62.876 1601.301)" font-size="1" fill="#000" stroke="#000" stroke-width="0.0131" >0</text>
<line x1="77.50" y1="1546.79" x2="83.70" y2="1546.79" stroke="#000" stroke-width="1.60"/>
<text x="0.0213 0.6571" transform="matrix(18.41074 0.00000 0.00000 19.34700 51.096 1553.889)" font-size="1" fill="#000" stroke="#000" stroke-width="0.0132" >25</text>
<line x1="77.50" y1="1499.38" x2="83.70" y2="1499.38" stroke="#000" stroke-width="1.60"/>
<text x="0.0192 0.6231" transform="matrix(18.99577 0.00000 0.00000 19.34700 51.009 1506.478)" font-size="1" fill="#000" stroke="#000" stroke-width="0.0130" >50</text>
<line x1="77.50" y1="1451.97" x2="83.70" y2="1451.97" stroke="#000" stroke-width="1.60"/>
<text x="0.0274 0.6420" transform="matrix(18.64337 0.00000 0.00000 19.29462 51.104 1458.953)" font-size="1" fill="#000" stroke="#000" stroke-width="0.0132" >75</text>
<line x1="77.50" y1="1404.56" x2="83.70" y2="1404.56" stroke="#000" stroke-width="1.60"/>
<text x="0.0184 0.6231 1.2247" transform="matrix(19.18302 0.00000 0.00000 19.34700 39.255 1411.656)" font-size="1" fill="#000" stroke="#000" stroke-width="0.0130" >100</text>
<line x1="77.50" y1="1357.14" x2="83.70" y2="1357.14" stroke="#000" stroke-width="1.60"/>
<text x="0.0344 0.6571 1.2996" transform="matrix(18.33145 0.00000 0.00000 19.34700 39.410 1364.245)" font-size="1" fill="#000" stroke="#000" stroke-width="0.0133" >125</text>
<line x1="77.50" y1="1309.73" x2="83.70" y2="1309.73" stroke="#000" stroke-width="1.60"/>
<text x="0.0344 0.6670 1.3021" transform="matrix(18.49326 0.00000 0.00000 19.34700 39.024 1316.834)" font-size="1" fill="#000" stroke="#000" stroke-width="0.0132" >150</text>
<line x1="77.50" y1="1262.32" x2="83.70" y2="1262.32" stroke="#000" stroke-width="1.60"/>
<text x="0.0344 0.6683 1.2996" transform="matrix(18.33145 0.00000 0.00000 19.29462 39.410 1269.308)" font-size="1" fill="#000" stroke="#000" stroke-width="0.0133" >175</text>
<line x1="77.50" y1="1214.91" x2="83.70" y2="1214.91" stroke="#000" stroke-width="1.60"/>
<text x="0.0097 0.6231 1.2247" transform="matrix(19.20882 0.00000 0.00000 19.34700 39.210 1222.012)" font-size="1" fill="#000" stroke="#000" stroke-width="0.0130" >200</text>
<line x1="77.50" y1="1167.50" x2="83.70" y2="1167.50" stroke="#000" stroke-width="1.60"/>
<text x="0.0213 0.6473 1.2830" transform="matrix(18.50347 0.00000 0.00000 19.34700 39.405 1174.601)" font-size="1" fill="#000" stroke="#000" stroke-width="0.0132" >225</text>
<line x1="677.80" y1="1594.20" x2="683.80" y2="1594.20" stroke="#000" stroke-width="1.60"/>
<text transform="matrix(18.93613 0.00000 0.00000 19.34700 687.568 1601.051)" font-size="1" fill="#000" stroke="#000" stroke-width="0.0131" >0</text>
<line x1="677.80" y1="1540.86" x2="683.80" y2="1540.86" stroke="#000" stroke-width="1.60"/>
<text transform="matrix(17.92832 0.00000 0.00000 19.17382 687.704 1546.153)" font-size="1" fill="#000" stroke="#000" stroke-width="0.0135" >1</text>
<text transform="matrix(17.89474 0.00000 0.00000 18.94345 702.212 1545.877)" font-size="1" fill="#000" stroke="#000" stroke-width="0.0136" font-style="italic">k</text>
<line x1="677.80" y1="1487.53" x2="683.80" y2="1487.53" stroke="#000" stroke-width="1.60"/>
<text transform="matrix(18.15385 0.00000 0.00000 19.22867 687.451 1492.931)" font-size="1" fill="#000" stroke="#000" stroke-width="0.0134" >2</text>
<text transform="matrix(17.89474 0.00000 0.00000 18.94345 702.212 1492.655)" font-size="1" fill="#000" stroke="#000" stroke-width="0.0136" font-style="italic">k</text>
<line x1="677.80" y1="1434.19" x2="683.80" y2="1434.19" stroke="#000" stroke-width="1.60"/>
<text transform="matrix(18.06737 0.00000 0.00000 19.34700 687.727 1439.538)" font-size="1" fill="#000" stroke="#000" stroke-width="0.0134" >3</text>
<text transform="matrix(17.89474 0.00000 0.00000 18.94345 702.212 1439.456)" font-size="1" fill="#000" stroke="#000" stroke-width="0.0136" font-style="italic">k</text>
<line x1="677.80" y1="1380.85" x2="683.80" y2="1380.85" stroke="#000" stroke-width="1.60"/>
<text transform="matrix(18.81584 0.00000 0.00000 19.17382 687.522 1386.141)" font-size="1" fill="#000" stroke="#000" stroke-width="0.0132" >4</text>
<text transform="matrix(17.89474 0.00000 0.00000 18.94345 702.212 1385.865)" font-size="1" fill="#000" stroke="#000" stroke-width="0.0136" font-style="italic">k</text>
<line x1="677.80" y1="1327.51" x2="683.80" y2="1327.51" stroke="#000" stroke-width="1.60"/>
<text transform="matrix(17.77684 0.00000 0.00000 19.29462 687.740 1332.749)" font-size="1" fill="#000" stroke="#000" stroke-width="0.0135" >5</text>
<text transform="matrix(17.89474 0.00000 0.00000 18.94345 702.212 1332.666)" font-size="1" fill="#000" stroke="#000" stroke-width="0.0136" font-style="italic">k</text>
<line x1="677.80" y1="1274.18" x2="683.80" y2="1274.18" stroke="#000" stroke-width="1.60"/>
<text transform="matrix(19.45081 0.00000 0.00000 19.34700 687.340 1279.526)" font-size="1" fill="#000" stroke="#000" stroke-width="0.0129" >6</text>
<text transform="matrix(17.89474 0.00000 0.00000 18.94345 702.212 1279.443)" font-size="1" fill="#000" stroke="#000" stroke-width="0.0136" font-style="italic">k</text>
<line x1="677.80" y1="1220.84" x2="683.80" y2="1220.84" stroke="#000" stroke-width="1.60"/>
<text transform="matrix(18.45746 0.00000 0.00000 19.17382 687.574 1226.129)" font-size="1" fill="#000" stroke="#000" stroke-width="0.0133" >7</text>
<text transform="matrix(17.89474 0.00000 0.00000 18.94345 702.212 1225.852)" font-size="1" fill="#000" stroke="#000" stroke-width="0.0136" font-style="italic">k</text>
<line x1="677.80" y1="1167.50" x2="683.80" y2="1167.50" stroke="#000" stroke-width="1.60"/>
<text transform="matrix(19.04255 0.00000 0.00000 19.34700 687.458 1172.851)" font-size="1" fill="#000" stroke="#000" stroke-width="0.0130" >8</text>
<text transform="matrix(17.89474 0.00000 0.00000 18.94345 702.212 1172.768)" font-size="1" fill="#000" stroke="#000" stroke-width="0.0136" font-style="italic">k</text>
<line x1="110.70" y1="1594.20" x2="110.70" y2="1597.20" stroke="#000" stroke-width="1.60"/>
<text x="-0.0098 0.7126 1.3073" transform="matrix(0.00000 -19.27066 19.29462 0.00000 115.641 1638.193)" font-size="1" fill="#000" stroke="#000" stroke-width="0.0130" >Nov</text>
<line x1="200.72" y1="1594.20" x2="200.72" y2="1597.20" stroke="#000" stroke-width="1.60"/>
<text x="0.0118 0.7661 1.3449" transform="matrix(0.00000 -18.80894 19.29462 0.00000 205.656 1638.260)" font-size="1" fill="#000" stroke="#000" stroke-width="0.0131" >Dec</text>
<line x1="293.74" y1="1594.20" x2="293.74" y2="1600.40" stroke="#000" stroke-width="1.60"/>
<text x="0.0213 0.6595 1.2732 1.8991" transform="matrix(0.00000 -18.60599 19.34700 0.00000 298.786 1650.496)" font-size="1" fill="#000" stroke="#000" stroke-width="0.0132" >2022</text>
<line x1="386.75" y1="1594.20" x2="386.75" y2="1597.20" stroke="#000" stroke-width="1.60"/>
<text x="-0.0415 0.5411 1.0721" transform="matrix(0.00000 -19.08879 19.06122 0.00000 391.965 1634.242)" font-size="1" fill="#000" stroke="#000" stroke-width="0.0131" >Feb</text>
<line x1="470.77" y1="1594.20" x2="470.77" y2="1597.20" stroke="#000" stroke-width="1.60"/>
<text x="0.0150 0.8553 1.5331" transform="matrix(0.00000 -18.61818 19.29462 0.00000 475.701 1637.413)" font-size="1" fill="#000" stroke="#000" stroke-width="0.0132" >Mar</text>
<line x1="563.78" y1="1594.20" x2="563.78" y2="1597.20" stroke="#000" stroke-width="1.60"/>
<text x="-0.0204 0.6459 1.2483" transform="matrix(0.00000 -19.85535 18.99441 0.00000 566.739 1634.014)" font-size="1" fill="#000" stroke="#000" stroke-width="0.0129" >Apr</text>
<line x1="653.80" y1="1594.20" x2="653.80" y2="1597.20" stroke="#000" stroke-width="1.60"/>
<text x="0.0150 0.8553 1.5219" transform="matrix(0.00000 -18.44345 18.99441 0.00000 656.755 1640.720)" font-size="1" fill="#000" stroke="#000" stroke-width="0.0134" >May</text>
<text x="-0.0293 0.6144 1.1946 1.7077 2.2924 2.8557 3.4183 3.7566 4.3369 4.9192 5.2156 5.7102 6.3130 6.8140 7.3814 7.8696 8.1777 8.7809 9.0749 9.3366 10.0107 10.7576 11.3971 11.6754 12.4027 12.7546 13.3524" transform="matrix(0.00000 -26.18318 23.86059 0.00000 22.524 1563.187)" font-size="1" fill="#2a72a8" stroke="#2a72a8" stroke-width="0.0100" >Suspected cases of COVID-19</text>
<text x="-0.0371 0.6658 1.2540 1.8648 2.1793 2.4627 2.8499 3.7190 4.2992 4.8815 5.1780 5.6725 6.2754 6.7764 7.3438 7.8320 8.1401 8.7432 9.0372 9.2990 9.9730 10.7199 11.3595 11.6378 12.3651 12.7169 13.3148" transform="matrix(0.00000 -26.07531 25.51020 0.00000 742.620 1561.710)" font-size="1" fill="#c8641e" stroke="#c8641e" stroke-width="0.0097" >Confirmed cases of COVID-19</text>
<text transform="matrix(36.51282 0.00000 0.00000 37.80822 21.739 1142.822)" font-size="1" fill="#000" stroke="#000" stroke-width="0.0161" font-weight="bold">c</text>
<text x="0.0246 0.9858 1.5864 2.1806 2.7703 3.1206" transform="matrix(27.14747 0.00000 0.00000 24.64789 559.966 1207.492)" font-size="1" fill="#000" stroke="#000" stroke-width="0.0232" font-weight="bold">Wave 3</text>
<text transform="matrix(23.61290 0.00000 0.00000 18.13953 173.440 1359.094)" font-size="1" fill="#000" stroke="#000" stroke-width="0.0120" font-style="italic">τ</text>
<text transform="matrix(14.17582 0.00000 0.00000 13.60731 183.864 1363.039)" font-size="1" fill="#000" stroke="#000" stroke-width="0.0180" font-style="italic">c</text>
<text transform="matrix(23.60825 0.00000 0.00000 16.58915 195.645 1358.454)" font-size="1" fill="#000" stroke="#000" stroke-width="0.0124" >=</text>
<text x="0.0257 0.6432" transform="matrix(18.68926 0.00000 0.00000 19.17382 215.066 1358.807)" font-size="1" fill="#000" stroke="#000" stroke-width="0.0132" >17</text>
<text transform="matrix(18.94273 0.00000 0.00000 18.99329 173.599 1388.034)" font-size="1" fill="#000" stroke="#000" stroke-width="0.0132" font-style="italic">ρ</text>
<text transform="matrix(17.20930 0.00000 0.00000 22.10526 177.125 1387.162)" font-size="1" fill="#000" stroke="#000" stroke-width="0.0127" >ˆ</text>
<text x="0.0097 0.2528 0.5555" transform="matrix(17.65198 0.00000 0.00000 13.67292 184.645 1390.738)" font-size="1" fill="#000" stroke="#000" stroke-width="0.0160" font-style="italic">i,j</text>
<text transform="matrix(23.81443 0.00000 0.00000 18.13953 203.234 1388.013)" font-size="1" fill="#000" stroke="#000" stroke-width="0.0119" >=</text>
<text x="0.0197 0.6073 0.9178 1.5159" transform="matrix(19.42991 0.00000 0.00000 19.34700 221.761 1387.620)" font-size="1" fill="#000" stroke="#000" stroke-width="0.0129" >0.88</text>
</g>
</svg></body></html>
